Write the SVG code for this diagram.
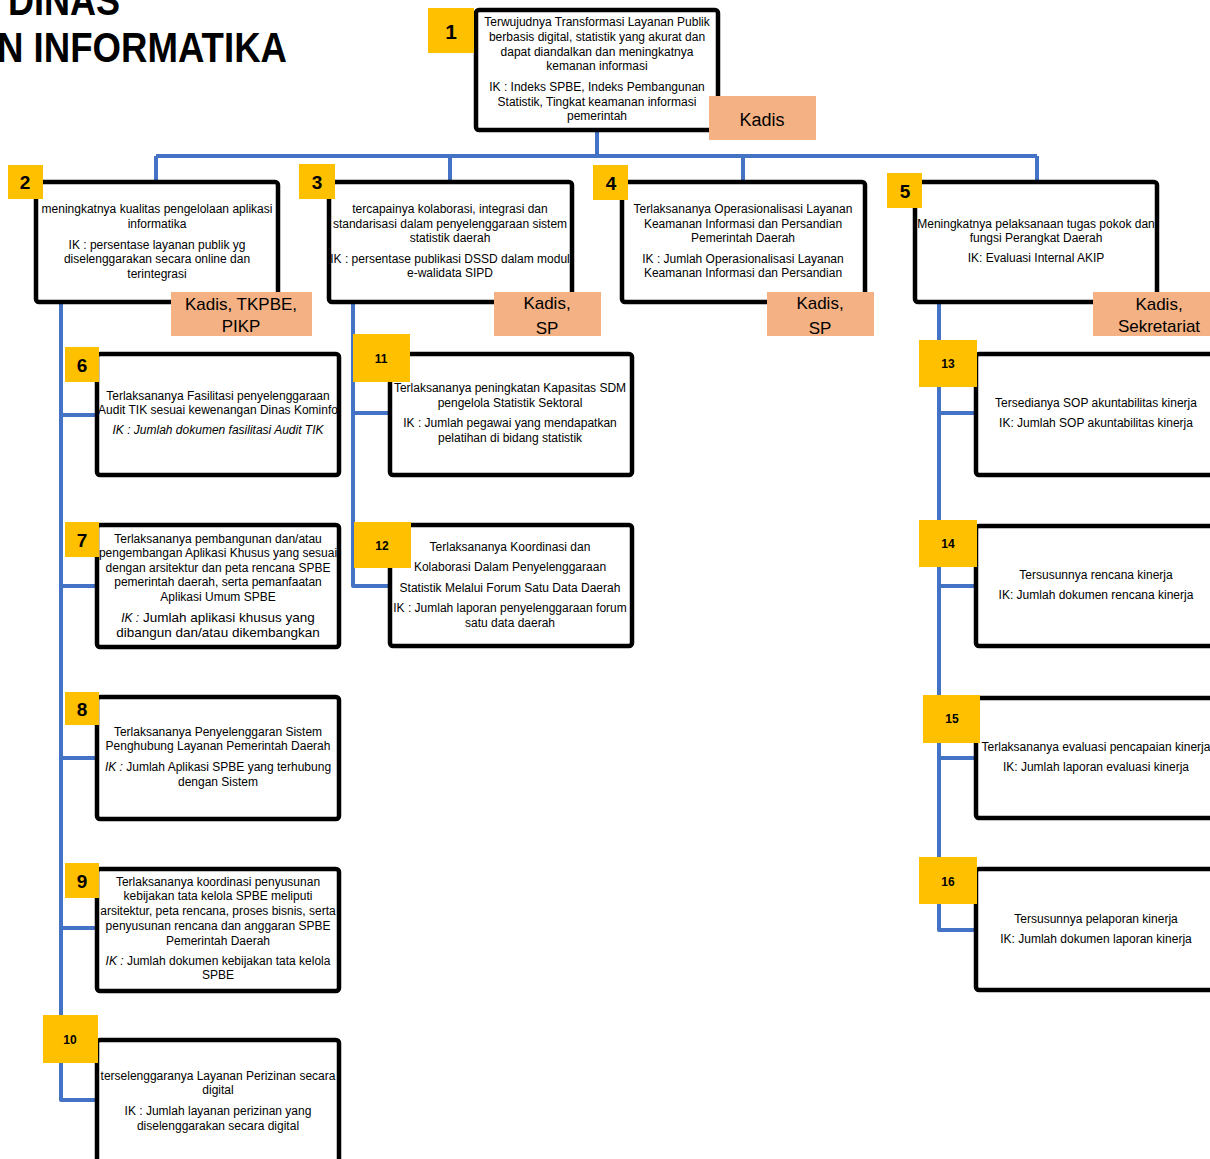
<svg xmlns="http://www.w3.org/2000/svg" width="1210" height="1159" viewBox="0 0 1210 1159">
<style>
.t{font-family:"Liberation Sans",Arial,sans-serif;font-size:12px;text-anchor:middle;fill:#000}
.it{font-style:italic}
.ar{font-size:13.5px}
.box{fill:#fff;stroke:#000;stroke-width:4.5}
.badge{fill:#FFC000}
.bl{font-family:"Liberation Sans",Arial,sans-serif;font-weight:bold;font-size:19px;text-anchor:middle;fill:#000}
.bls{font-family:"Liberation Sans",Arial,sans-serif;font-weight:bold;font-size:12px;text-anchor:middle;fill:#000}
.kb{fill:#F4B183}
.kt{font-family:"Liberation Sans",Arial,sans-serif;font-size:17px;text-anchor:middle;fill:#000}
.con{fill:none;stroke:#4472C4;stroke-width:4;stroke-linejoin:round}
.title{font-family:"Liberation Sans",Arial,sans-serif;font-weight:bold;font-size:42px;fill:#000}
</style>
<rect width="1210" height="1159" fill="#fff"/>
<g id="title">
<text class="title" x="8" y="15" textLength="112" lengthAdjust="spacingAndGlyphs">DINAS</text>
<text class="title" x="-3" y="62" textLength="290" lengthAdjust="spacingAndGlyphs">N INFORMATIKA</text>
</g>
<g id="connectors">
<path class="con" d="M597 131 V156 M156 156 H1037 M156 156 V181 M450 156 V181 M743 156 V181 M1037 156 V181"/>
<path class="con" d="M61 303 V1100 H96 M61 415 H96 M61 586 H96 M61 758 H96 M61 928 H96"/>
<path class="con" d="M353 303 V586 H388 M353 413 H388"/>
<path class="con" d="M939 303 V930 H975 M939 413 H975 M939 586 H975 M939 758 H975"/>
</g>
<g id="node1">
<rect class="box" x="476" y="10" width="242" height="120" rx="3"/>
<rect class="badge" x="428" y="8" width="46" height="45"/>
<text class="bl" x="451" y="39" style="font-size:21px">1</text>
<text class="t" x="597" y="26">Terwujudnya Transformasi Layanan Publik</text>
<text class="t" x="597" y="41">berbasis digital, statistik yang akurat dan</text>
<text class="t" x="597" y="56">dapat diandalkan dan meningkatnya</text>
<text class="t" x="597" y="70">kemanan informasi</text>
<text class="t" x="597" y="91">IK : Indeks SPBE, Indeks Pembangunan</text>
<text class="t" x="597" y="106">Statistik, Tingkat keamanan informasi</text>
<text class="t" x="597" y="120">pemerintah</text>
<rect class="kb" x="709" y="96" width="107" height="44"/>
<text class="kt" x="762" y="126" style="font-size:18px">Kadis</text>
</g>
<g id="node2">
<rect class="box" x="36" y="182" width="242" height="120" rx="3"/>
<rect class="badge" x="8" y="165" width="35" height="34"/>
<text class="bl" x="25" y="189">2</text>
<text class="t" x="157" y="213">meningkatnya kualitas pengelolaan aplikasi</text>
<text class="t" x="157" y="228">informatika</text>
<text class="t" x="157" y="249">IK : persentase layanan publik yg</text>
<text class="t" x="157" y="263">diselenggarakan secara online dan</text>
<text class="t" x="157" y="278">terintegrasi</text>
<rect class="kb" x="171" y="292" width="141" height="44"/>
<text class="kt" x="241" y="310">Kadis, TKPBE,</text>
<text class="kt" x="241" y="332">PIKP</text>
</g>
<g id="node3">
<rect class="box" x="329" y="182" width="243" height="120" rx="3"/>
<rect class="badge" x="299" y="164" width="36" height="35"/>
<text class="bl" x="317" y="189">3</text>
<text class="t" x="450" y="213">tercapainya kolaborasi, integrasi dan</text>
<text class="t" x="450" y="228">standarisasi dalam penyelenggaraan sistem</text>
<text class="t" x="450" y="242">statistik daerah</text>
<text class="t" x="450" y="263">IK : persentase publikasi DSSD dalam modul</text>
<text class="t" x="450" y="277">e-walidata SIPD</text>
<rect class="kb" x="494" y="292" width="107" height="44"/>
<text class="kt" x="547" y="309">Kadis,</text>
<text class="kt" x="547" y="334">SP</text>
</g>
<g id="node4">
<rect class="box" x="622" y="182" width="243" height="120" rx="3"/>
<rect class="badge" x="593" y="165" width="35" height="35"/>
<text class="bl" x="611" y="190">4</text>
<text class="t" x="743" y="213">Terlaksananya Operasionalisasi Layanan</text>
<text class="t" x="743" y="228">Keamanan Informasi dan Persandian</text>
<text class="t" x="743" y="242">Pemerintah Daerah</text>
<text class="t" x="743" y="263">IK : Jumlah Operasionalisasi Layanan</text>
<text class="t" x="743" y="277">Keamanan Informasi dan Persandian</text>
<rect class="kb" x="767" y="292" width="107" height="44"/>
<text class="kt" x="820" y="309">Kadis,</text>
<text class="kt" x="820" y="334">SP</text>
</g>
<g id="node5">
<rect class="box" x="915" y="182" width="242" height="120" rx="3"/>
<rect class="badge" x="887" y="173" width="35" height="35"/>
<text class="bl" x="905" y="198">5</text>
<text class="t" x="1036" y="228">Meningkatnya pelaksanaan tugas pokok dan</text>
<text class="t" x="1036" y="242">fungsi Perangkat Daerah</text>
<text class="t" x="1036" y="262">IK: Evaluasi Internal AKIP</text>
<rect class="kb" x="1093" y="292" width="120" height="44"/>
<text class="kt" x="1159" y="310">Kadis,</text>
<text class="kt" x="1159" y="332">Sekretariat</text>
</g>
<g id="node6">
<rect class="box" x="97" y="354" width="242" height="121" rx="3"/>
<rect class="badge" x="65" y="347" width="34" height="35"/>
<text class="bl" x="82" y="372">6</text>
<text class="t" x="218" y="400">Terlaksananya Fasilitasi penyelenggaraan</text>
<text class="t" x="218" y="414">Audit TIK sesuai kewenangan Dinas Kominfo</text>
<text class="t it" x="218" y="434">IK : Jumlah dokumen fasilitasi Audit TIK</text>
</g>
<g id="node7">
<rect class="box" x="97" y="525" width="242" height="122" rx="3"/>
<rect class="badge" x="65" y="522" width="34" height="35"/>
<text class="bl" x="82" y="547">7</text>
<text class="t" x="218" y="543">Terlaksananya pembangunan dan/atau</text>
<text class="t" x="218" y="557">pengembangan Aplikasi Khusus yang sesuai</text>
<text class="t" x="218" y="572">dengan arsitektur dan peta rencana SPBE</text>
<text class="t" x="218" y="586">pemerintah daerah, serta pemanfaatan</text>
<text class="t" x="218" y="601">Aplikasi Umum SPBE</text>
<text class="t" x="218" y="622"><tspan class="it">IK :</tspan><tspan class="ar"> Jumlah aplikasi khusus yang</tspan></text>
<text class="t ar" x="218" y="637">dibangun dan/atau dikembangkan</text>
</g>
<g id="node8">
<rect class="box" x="97" y="697" width="242" height="122" rx="3"/>
<rect class="badge" x="65" y="692" width="34" height="33"/>
<text class="bl" x="82" y="716">8</text>
<text class="t" x="218" y="736">Terlaksananya Penyelenggaran Sistem</text>
<text class="t" x="218" y="750">Penghubung Layanan Pemerintah Daerah</text>
<text class="t" x="218" y="771"><tspan class="it">IK :</tspan> Jumlah Aplikasi SPBE yang terhubung</text>
<text class="t" x="218" y="786">dengan Sistem</text>
</g>
<g id="node9">
<rect class="box" x="97" y="869" width="242" height="122" rx="3"/>
<rect class="badge" x="65" y="863" width="34" height="35"/>
<text class="bl" x="82" y="888">9</text>
<text class="t" x="218" y="886">Terlaksananya koordinasi penyusunan</text>
<text class="t" x="218" y="900">kebijakan tata kelola SPBE meliputi</text>
<text class="t" x="218" y="915">arsitektur, peta rencana, proses bisnis, serta</text>
<text class="t" x="218" y="930">penyusunan rencana dan anggaran SPBE</text>
<text class="t" x="218" y="945">Pemerintah Daerah</text>
<text class="t" x="218" y="965"><tspan class="it">IK :</tspan> Jumlah dokumen kebijakan tata kelola</text>
<text class="t" x="218" y="979">SPBE</text>
</g>
<g id="node10">
<rect class="box" x="97" y="1040" width="242" height="160" rx="3"/>
<rect class="badge" x="43" y="1015" width="55" height="48"/>
<text class="bls" x="70" y="1044">10</text>
<text class="t" x="218" y="1080">terselenggaranya Layanan Perizinan secara</text>
<text class="t" x="218" y="1094">digital</text>
<text class="t" x="218" y="1115">IK : Jumlah layanan perizinan yang</text>
<text class="t" x="218" y="1130">diselenggarakan secara digital</text>
</g>
<g id="node11">
<rect class="box" x="390" y="354" width="242" height="121" rx="3"/>
<rect class="badge" x="353" y="334" width="57" height="48"/>
<text class="bls" x="381" y="363">11</text>
<text class="t" x="510" y="392">Terlaksananya peningkatan Kapasitas SDM</text>
<text class="t" x="510" y="407">pengelola Statistik Sektoral</text>
<text class="t" x="510" y="427">IK : Jumlah pegawai yang mendapatkan</text>
<text class="t" x="510" y="442">pelatihan di bidang statistik</text>
</g>
<g id="node12">
<rect class="box" x="390" y="525" width="242" height="121" rx="3"/>
<rect class="badge" x="354" y="522" width="57" height="46"/>
<text class="bls" x="382" y="550">12</text>
<text class="t" x="510" y="551">Terlaksananya Koordinasi dan</text>
<text class="t" x="510" y="571">Kolaborasi Dalam Penyelenggaraan</text>
<text class="t" x="510" y="592">Statistik Melalui Forum Satu Data Daerah</text>
<text class="t" x="510" y="612">IK : Jumlah laporan penyelenggaraan forum</text>
<text class="t" x="510" y="627">satu data daerah</text>
</g>
<g id="node13">
<rect class="box" x="976" y="354" width="300" height="121" rx="3"/>
<rect class="badge" x="919" y="340" width="58" height="47"/>
<text class="bls" x="948" y="368">13</text>
<text class="t" x="1096" y="407">Tersedianya SOP akuntabilitas kinerja</text>
<text class="t" x="1096" y="427">IK: Jumlah SOP akuntabilitas kinerja</text>
</g>
<g id="node14">
<rect class="box" x="976" y="526" width="300" height="120" rx="3"/>
<rect class="badge" x="919" y="520" width="58" height="47"/>
<text class="bls" x="948" y="548">14</text>
<text class="t" x="1096" y="579">Tersusunnya rencana kinerja</text>
<text class="t" x="1096" y="599">IK: Jumlah dokumen rencana kinerja</text>
</g>
<g id="node15">
<rect class="box" x="976" y="698" width="300" height="120" rx="3"/>
<rect class="badge" x="923" y="695" width="57" height="48"/>
<text class="bls" x="952" y="723">15</text>
<text class="t" x="1096" y="751">Terlaksananya evaluasi pencapaian kinerja</text>
<text class="t" x="1096" y="771">IK: Jumlah laporan evaluasi kinerja</text>
</g>
<g id="node16">
<rect class="box" x="976" y="869" width="300" height="121" rx="3"/>
<rect class="badge" x="919" y="857" width="58" height="47"/>
<text class="bls" x="948" y="886">16</text>
<text class="t" x="1096" y="923">Tersusunnya pelaporan kinerja</text>
<text class="t" x="1096" y="943">IK: Jumlah dokumen laporan kinerja</text>
</g>
</svg>
